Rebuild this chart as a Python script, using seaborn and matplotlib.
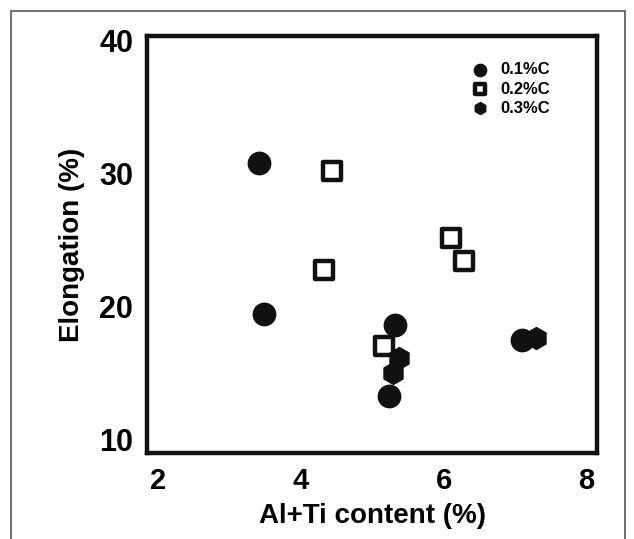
import numpy as np
import pandas as pd
import matplotlib
matplotlib.use("Agg")
import matplotlib.pyplot as plt
import seaborn as sns
from matplotlib.patches import Rectangle

# values
c01_x = [3.42, 3.48, 5.32, 5.23, 7.10]
c01_y = [30.8, 19.4, 18.6, 13.3, 17.5]
c02_x = [4.44, 4.33, 6.11, 6.28, 5.17]
c02_y = [30.2, 22.7, 25.1, 23.4, 17.0]
c03_x = [5.37, 5.29, 7.29]
c03_y = [16.1, 15.0, 17.6]
series_names = ["0.1%C", "0.2%C", "0.3%C"]
x_ticks = [2, 4, 6, 8]
y_ticks = [10, 20, 30, 40]

sns.set_style("white")
plt.rcParams['font.family'] = ['Liberation Sans', 'DejaVu Sans']
plt.rcParams['font.weight'] = 'bold'
plt.rcParams['text.color'] = 'black'
plt.rcParams['axes.labelcolor'] = 'black'
plt.rcParams['xtick.color'] = 'black'
plt.rcParams['ytick.color'] = 'black'

df1 = pd.DataFrame({'x': c01_x, 'y': c01_y})
df2 = pd.DataFrame({'x': c02_x, 'y': c02_y})
df3 = pd.DataFrame({'x': c03_x, 'y': c03_y})

fig = plt.figure(figsize=(6.34, 5.39), dpi=100)
ax = fig.add_axes([0.232, 0.160, 0.710, 0.773])

ink = '#111111'
sns.scatterplot(data=df1, x='x', y='y', ax=ax, marker='o', s=260,
                color=ink, edgecolor=ink, linewidth=1, label=series_names[0])
sns.scatterplot(data=df2, x='x', y='y', ax=ax, marker='s', s=150,
                facecolor='white', edgecolor=ink, linewidth=3.2, label=series_names[1])
sns.scatterplot(data=df3, x='x', y='y', ax=ax, marker='h', s=250,
                color=ink, edgecolor=ink, linewidth=1, label=series_names[2])

ax.set_xlim(1.85, 8.15)
ax.set_ylim(9.0, 40.3)
ax.set_xticks(x_ticks)
ax.set_yticks(y_ticks)
ax.set_xticklabels([str(t) for t in x_ticks], fontsize=21, fontweight='bold')
ax.set_yticklabels([str(t) for t in y_ticks], fontsize=22, fontweight='bold')
ax.tick_params(direction='in', length=8, width=2.5, color=ink, pad=10)

for sp in ax.spines.values():
    sp.set_linewidth(3.2)
    sp.set_color(ink)

ax.set_xlabel('Al+Ti content (%)', fontsize=20, fontweight='bold', labelpad=6)
ax.set_ylabel('Elongation (%)', fontsize=20, fontweight='bold', labelpad=10)

leg = ax.legend(loc='upper right', bbox_to_anchor=(0.92, 0.965), frameon=False,
                fontsize=12, labelspacing=0.25, handletextpad=0.2,
                markerscale=0.55, borderpad=0.2)
for t in leg.get_texts():
    t.set_fontweight('bold')

# thin outer border of the scanned figure
fig.patches.append(Rectangle((0.018, -0.01), 0.968, 0.99, transform=fig.transFigure,
                             fill=False, edgecolor='#555555', linewidth=1.2))

fig.savefig('out.png', dpi=100)
